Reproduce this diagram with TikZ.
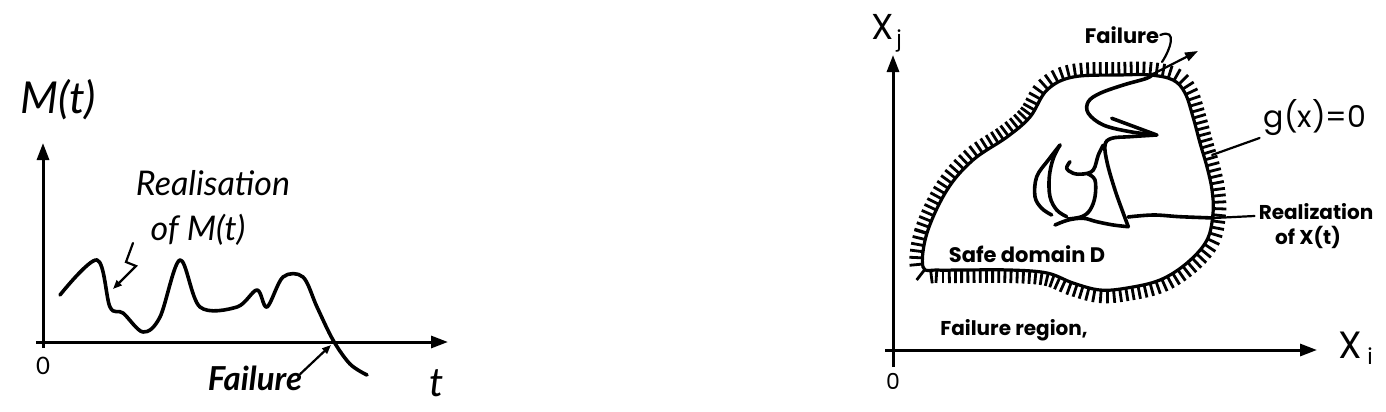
\documentclass[tikz,border=0pt]{standalone}
\usepackage{fontspec}
\setmainfont{Lato}
\newfontfamily\geo{Poppins}
\usetikzlibrary{arrows.meta,decorations.markings}
\begin{document}
\begin{tikzpicture}[x=1pt,y=-1pt,
  axis/.style={line width=3pt,-{Triangle[length=17pt,width=12pt]}},
  curve/.style={line width=3.6pt,line join=round,line cap=round},
  thin/.style={line width=2.2pt,line cap=round},
  hand/.style={font=\itshape,inner sep=0pt},
  lbl/.style={font=\geo\bfseries,inner sep=0pt,align=center},
  hatch/.style={line width=3.2pt,postaction={decorate,decoration={markings,
     mark=between positions 0 and 1 step 6.2pt with {\draw[line width=2.8pt] (0,0)--(0,13pt);}}}},
]
\useasboundingbox (0,0) rectangle (1386,412);
% ---------- left panel ----------
\coordinate (lo) at (43,342);
\coordinate (ly) at (43,143);
\coordinate (lx) at (448,342);
\coordinate (lx0) at (36,342);
\draw[axis] (lo) -- (ly);
\draw[axis] (lx0) -- (lx);
\draw[line width=3pt] (lo) -- ++(0,6);
\node[hand,font=\fontsize{44}{50}\selectfont\itshape] (Mt) at (58,100) {M(t)};
\node[hand,font=\fontsize{24}{28}\selectfont] (l0) at (43,366) {0};
\node[hand,font=\fontsize{40}{46}\selectfont\itshape] (lt) at (437,383) {t};
\node[hand,font=\fontsize{34}{40}\selectfont\itshape] (real) at (213,183) {Realisation};
\node[hand,font=\fontsize{34}{40}\selectfont\itshape] (ofM) at (198,230) {of M(t)};
\node[hand,font=\fontsize{33}{40}\selectfont\bfseries\itshape] (lfail) at (255,378) {Failure};
\draw[curve] plot[smooth,tension=0.55] coordinates {(60,295) (97,260) (110,307) (123,313) (143,332) (160,317) (180,260) (200,307) (237,307) (257,290) (267,307) (283,277) (303,277) (317,307) (333,340) (350,364) (367,375)};
\coordinate (rs) at (133,243);
\coordinate (rp) at (113,289);
\coordinate (fp) at (331,345);
\draw[thin,-{Triangle[length=9pt,width=7pt]}] (rs) -- (126,262) -- (136,266) -- (rp);
\draw[thin,-{Triangle[length=9pt,width=7pt]}] (lfail.east) ++(-2,-4) -- (fp);
% ---------- right panel ----------
\coordinate (ro) at (893,350);
\coordinate (ry) at (893,55);
\coordinate (rx) at (1317,350);
\draw[axis] (893,367) -- (ry);
\draw[axis] (885,350) -- (rx);
\node[inner sep=0pt,font=\geo\fontsize{36}{40}\selectfont] (Xj) at (883,27) {X};
\node[inner sep=0pt,font=\geo\fontsize{22}{26}\selectfont] (jj) at (899,41) {j};
\node[inner sep=0pt,font=\geo\fontsize{38}{42}\selectfont] (Xi) at (1350,345) {X};
\node[inner sep=0pt,font=\geo\fontsize{22}{26}\selectfont] (ii) at (1370,356) {i};
\node[inner sep=0pt,font=\geo\fontsize{22}{26}\selectfont] (r0) at (893,381) {0};
\node[inner sep=0pt,font=\geo\fontsize{30}{34}\selectfont] (gx) at (1315,118) {g(x)=0};
\node[lbl,font=\geo\bfseries\fontsize{21}{24}\selectfont] (tfail) at (1122,35) {Failure};
\node[lbl,font=\geo\bfseries\fontsize{21}{24}\selectfont] (safe) at (1027,254) {Safe domain D};
\node[lbl,font=\geo\bfseries\fontsize{20}{24}\selectfont] (freg) at (1014,330) {Failure region,};
\node[lbl,font=\geo\bfseries\fontsize{20}{22}\selectfont] (realx) at (1316,212) {Realization};
\node[lbl,font=\geo\bfseries\fontsize{20}{22}\selectfont] (ofx) at (1308,237) {of X(t)};
% boundary
\draw[hatch] plot[smooth cycle,tension=0.6] coordinates {(923,267) (927,233) (947,190) (973,160) (1007,137) (1030,117) (1047,90) (1073,77) (1120,75) (1150,75) (1173,80) (1185,93) (1193,117) (1200,143) (1207,167) (1212,190) (1213,213) (1207,240) (1187,263) (1160,280) (1127,288) (1100,290) (1073,283) (1047,273) (1010,270) (960,270) (937,270)};
% trajectory
\coordinate (fpt) at (1153,74);
\coordinate (fhead) at (1198,51);
\coordinate (bpt) at (1214,218);
\coordinate (gpt) at (1212,155);
\draw[curve] plot[smooth,tension=0.6] coordinates {(1156.7,135) (1130,131.7) (1103.3,125) (1088.3,113.3) (1088.3,101.7) (1100,93.3) (1123.3,85) (1146.7,78.3) (fpt)};
\draw[curve] (1111.7,118.3) -- (1156.7,135);
\draw[curve] plot[smooth,tension=0.6] coordinates {(1156.7,135) (1130,136.7) (1111.7,138.3) (1105,145) (1107.3,163.3) (1115,190) (1123.3,213.3) (1128.3,226.7)};
\draw[curve] plot[smooth,tension=0.6] coordinates {(1128.3,226.7) (1113.3,225) (1096.7,221.7) (1083.3,218.3) (1068.3,220) (1055,225)};
\draw[curve] plot[smooth,tension=0.6] coordinates {(1128,217) (1153.3,215) (1180,216.7) (bpt)};
\draw[curve] plot[smooth,tension=0.6] coordinates {(1103.3,145) (1098.3,155) (1093.3,170) (1083.3,174) (1073.3,173.3) (1066.7,168.3) (1070,161.7)};
\draw[curve] plot[smooth,tension=0.6] coordinates {(1088,174) (1095,180) (1095,196.7) (1090,210) (1081.7,216.7) (1068,219)};
\draw[curve] plot[smooth,tension=0.6] coordinates {(1060,145) (1048.3,160) (1036.7,176.7) (1035,196.7) (1041.7,208.3) (1051.7,215)};
\draw[curve] plot[smooth,tension=0.6] coordinates {(1060,145) (1053.3,158.3) (1049.3,176.7) (1050,196.7) (1056.7,210) (1066.7,216.7)};
% leaders
\draw[thin,-{Triangle[length=13pt,width=9pt]}] (fpt) -- (fhead);
\draw[thin] (tfail.east) ++(1,0) .. controls (1178,28) and (1170,50) .. (1162,62);
\draw[thin] (gx.west) ++(-4,20) -- (gpt);
\draw[thin] (realx.west) ++(-4,4) -- (bpt);
\end{tikzpicture}
\end{document}
